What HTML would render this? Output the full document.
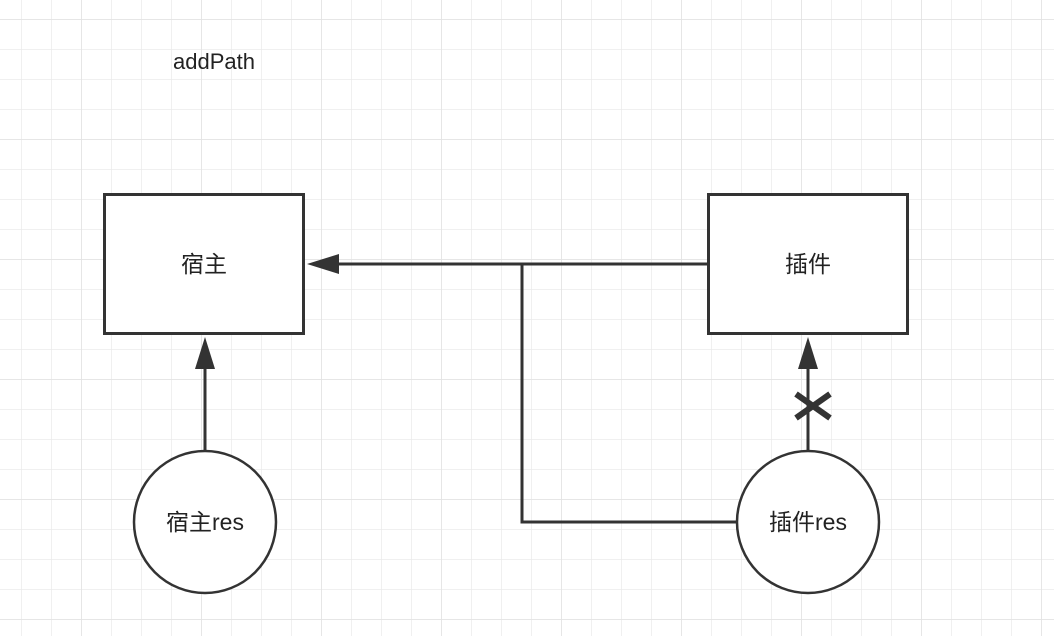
<!DOCTYPE html>
<html><head><meta charset="utf-8">
<style>
html,body{margin:0;padding:0;background:#fff;}
body{width:1054px;height:636px;overflow:hidden;}
</style></head>
<body>
<svg width="1054" height="636" xmlns="http://www.w3.org/2000/svg">
<defs>
<pattern id="g" x="21" y="19" width="30" height="30" patternUnits="userSpaceOnUse">
<path d="M0 0H30M0 0V30" stroke="#ebebeb" stroke-width="1.5" fill="none"/>
</pattern>
<pattern id="G" x="81" y="19" width="120" height="120" patternUnits="userSpaceOnUse">
<path d="M0 0H120M0 0V120" stroke="#e2e2e2" stroke-width="1.5" fill="none"/>
</pattern>
</defs>
<rect width="1054" height="636" fill="#fff"/>
<rect width="1054" height="636" fill="url(#g)"/>
<rect width="1054" height="636" fill="url(#G)"/>
<text x="173" y="69" font-family="Liberation Sans, sans-serif" font-size="22" fill="#222">addPath</text>

<g stroke="#333" fill="none" stroke-width="3">
<rect x="104.5" y="194.5" width="199" height="139" fill="#fff"/>
<rect x="708.5" y="194.5" width="199" height="139" fill="#fff"/>
<path d="M708 264H330"/>
<path d="M522 264V522H738"/>
<path d="M205 450V360"/>
<path d="M808 450V360"/>
<path d="M796 394L830 418M830 394L796 418" stroke-width="6"/>
</g>
<g fill="#333">
<path d="M307 264L339 254L339 274Z"/>
<path d="M205 337L195 369L215 369Z"/>
<path d="M808 337L798 369L818 369Z"/>
</g>
<g stroke="#333" stroke-width="2.5" fill="#fff">
<circle cx="205" cy="522" r="71"/>
<circle cx="808" cy="522" r="71"/>
</g>
<g font-family="Liberation Sans, Noto Sans CJK SC, sans-serif" font-size="23" fill="#222" text-anchor="middle">
<text x="204" y="272">宿主</text>
<text x="808" y="272">插件</text>
<text x="205" y="530">宿主res</text>
<text x="808" y="530">插件res</text>
</g>
</svg>
</body></html>
